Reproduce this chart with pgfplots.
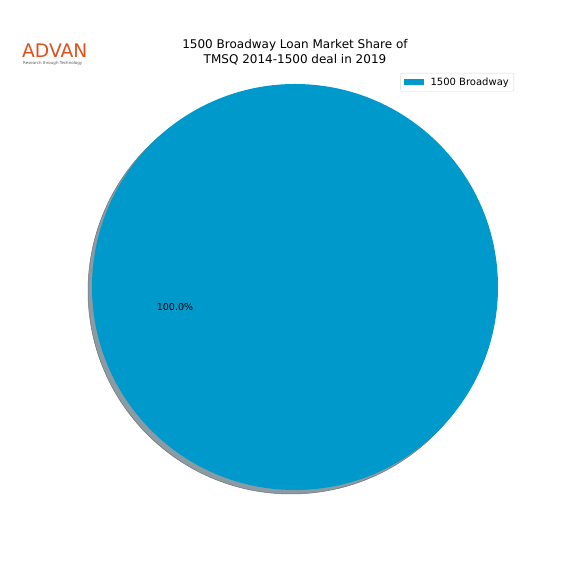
\documentclass[border=0pt]{standalone}
\usepackage{pgfplots}
\pgfplotsset{compat=1.18}
\usepackage{pgfplotstable}
\usepackage{fontspec}
\setmainfont{DejaVu Sans}
\definecolor{slice}{HTML}{0099CC}
\definecolor{shadowc}{HTML}{8A9BA3}
\definecolor{advan}{HTML}{DC521E}

% share of each lender, percent
\pgfplotstableread{
name value
{1500 Broadway} 100
}\sharedata

\begin{document}
\begin{tikzpicture}
\useasboundingbox (0,0) rectangle (576pt,576pt);
\fill[white] (0,0) rectangle (576pt,576pt);
\begin{axis}[
    at={(0,0)}, anchor=origin,
    x=1pt, y=1pt,
    xmin=0, xmax=576, ymin=0, ymax=576,
    hide axis, clip=false,
    legend style={at={(axis cs:514,503)}, anchor=north east,
        draw=black!15, rounded corners=2pt, font=\fontsize{10}{11.5}\selectfont,
        inner xsep=3pt, inner ysep=2.5pt,
        /tikz/every even column/.append style={column sep=0pt}},
]
\pgfplotstablegetelem{0}{value}\of\sharedata
\let\v\pgfplotsretval
% shadow
\fill[shadowc, draw=black!55, line width=0.5pt]
    (axis cs:291,285) circle[radius=203pt];
% slice
\fill[slice] (axis cs:295,289) -- ++(180:203pt)
    arc[start angle=180, end angle={180+3.6*\v}, radius=203pt] -- cycle;
\addplot[draw=none, fill=slice,
    legend image code/.code={\fill[slice, sharp corners] (0pt,-3pt) rectangle (20pt,3pt); \path (25pt,0pt);}]
    coordinates {(295,289)};
\addlegendentry{1500 Broadway}
\node[font=\fontsize{9.5}{11}\selectfont] at (axis cs:175,269) {100.0\%};
\node[font=\fontsize{12}{15.5}\selectfont, align=center] at (axis cs:295,524)
    {1500 Broadway Loan Market Share of\\TMSQ 2014-1500 deal in 2019};
\node[font=\fontsize{18.7}{19}\selectfont, text=advan, anchor=base west, inner sep=0pt]
    at (axis cs:22,518) {ADVAN};
\node[font=\fontsize{4}{4}\selectfont, text=black!65, anchor=base west, inner sep=0pt]
    at (axis cs:23,511) {Research through Technology};
\end{axis}
\end{tikzpicture}
\end{document}
